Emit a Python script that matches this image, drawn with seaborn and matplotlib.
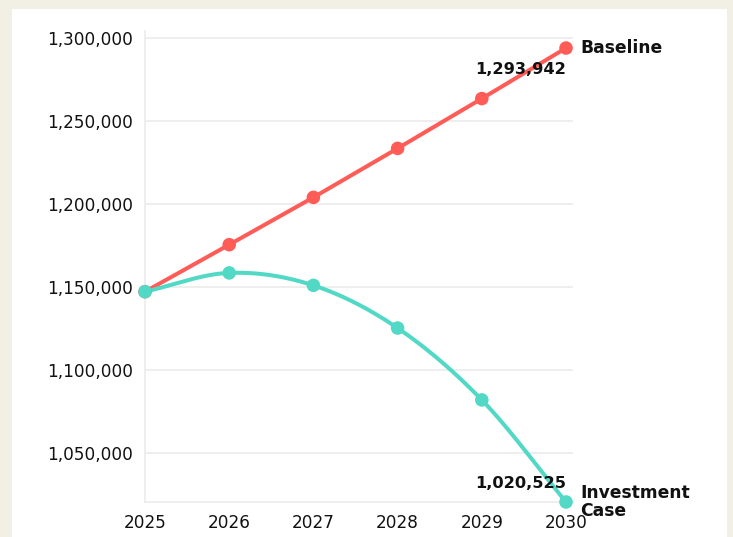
import numpy as np
import pandas as pd
import matplotlib
matplotlib.use("Agg")
import matplotlib.pyplot as plt
import seaborn as sns
from matplotlib.patches import Rectangle

years = [2025, 2026, 2027, 2028, 2029, 2030]
baseline = [1147200, 1175500, 1204000, 1233500, 1263500, 1293942]
investment = [1147200, 1158500, 1151000, 1125300, 1082000, 1020525]
series_names = ["Baseline", "Investment Case"]
series_labels = ["Baseline", "Investment\nCase"]
yticks = [1050000, 1100000, 1150000, 1200000, 1250000, 1300000]

colors = {"Baseline": "#FF5C57", "Investment Case": "#52D9C5"}

sns.set_theme(style="white")
plt.rcParams["font.family"] = ["DejaVu Sans"]

df = pd.DataFrame({
    "year": years * 2,
    "value": baseline + investment,
    "series": ["Baseline"] * len(years) + ["Investment Case"] * len(years),
})

fig = plt.figure(figsize=(7.33, 5.37), dpi=100)
fig.patch.set_facecolor("#F2F0E4")
panel = Rectangle((12 / 733, 0), 715 / 733, 1 - 9 / 537,
                  transform=fig.transFigure, facecolor="white",
                  edgecolor="none", zorder=-10)
fig.add_artist(panel)
ax = fig.add_axes([145 / 733, 1 - 502 / 537, 428 / 733, 471 / 537])
ax.set_facecolor("none")
ax.set_zorder(1)


def smooth(xs, ys):
    # Catmull-Rom spline through the points
    xs = np.asarray(xs, float)
    ys = np.asarray(ys, float)
    px = np.concatenate([[2 * xs[0] - xs[1]], xs, [2 * xs[-1] - xs[-2]]])
    py = np.concatenate([[2 * ys[0] - ys[1]], ys, [2 * ys[-1] - ys[-2]]])
    outx, outy = [], []
    for i in range(1, len(px) - 2):
        t = np.linspace(0, 1, 40, endpoint=(i == len(px) - 3))
        for arr, out in ((px, outx), (py, outy)):
            p0, p1, p2, p3 = arr[i - 1], arr[i], arr[i + 1], arr[i + 2]
            out.extend(0.5 * ((2 * p1) + (-p0 + p2) * t +
                              (2 * p0 - 5 * p1 + 4 * p2 - p3) * t ** 2 +
                              (-p0 + 3 * p1 - 3 * p2 + p3) * t ** 3))
    return np.array(outx), np.array(outy)


# Baseline: straight segments
sns.lineplot(data=df[df.series == "Baseline"], x="year", y="value",
             color=colors["Baseline"], linewidth=2.9, ax=ax, zorder=3)
# Investment: smooth curve
sx, sy = smooth(years, investment)
ax.plot(sx, sy, color=colors["Investment Case"], linewidth=2.9, zorder=3,
        clip_on=False, solid_capstyle="round")
sns.scatterplot(data=df, x="year", y="value", hue="series", palette=colors,
                s=95, edgecolor="none", ax=ax, legend=False, zorder=4,
                clip_on=False)

ax.set_xlim(2025, 2030.083)
ax.set_ylim(1020525, 1304200)
ax.set_xticks(years)
ax.set_xticklabels([str(y) for y in years])
ax.set_yticks(yticks)
ax.set_yticklabels([f"{v:,}" for v in yticks])
ax.grid(axis="y", color="#EBEBEB", linewidth=1.2)
ax.set_axisbelow(True)
for s in ["top", "right"]:
    ax.spines[s].set_visible(False)
for s in ["left", "bottom"]:
    ax.spines[s].set_color("#EBEBEB")
    ax.spines[s].set_linewidth(1.2)
ax.tick_params(axis="both", length=5, width=1.2, color="#EBEBEB",
               labelsize=12.2, labelcolor="#111111", pad=3.5)
ax.set_xlabel("")
ax.set_ylabel("")

# end labels
ax.text(years[-1], baseline[-1] - 8500, f"{baseline[-1]:,}", ha="right",
        va="top", fontsize=11.7, fontweight="bold", color="#111111",
        zorder=5)
ax.text(years[-1], investment[-1] + 6800, f"{investment[-1]:,}", ha="right",
        va="bottom", fontsize=11.7, fontweight="bold", color="#111111",
        zorder=5, clip_on=False)
ax.annotate(series_labels[0], (years[-1], baseline[-1]), xytext=(10.5, 0),
            textcoords="offset points", ha="left", va="center", fontsize=12.3,
            fontweight="bold", color="#111111", annotation_clip=False)
ax.annotate(series_labels[1], (years[-1], investment[-1]), xytext=(10.5, 0),
            textcoords="offset points", ha="left", va="center", fontsize=12.3,
            fontweight="bold", color="#111111", linespacing=0.95,
            annotation_clip=False)

fig.savefig("out.png", dpi=100)
